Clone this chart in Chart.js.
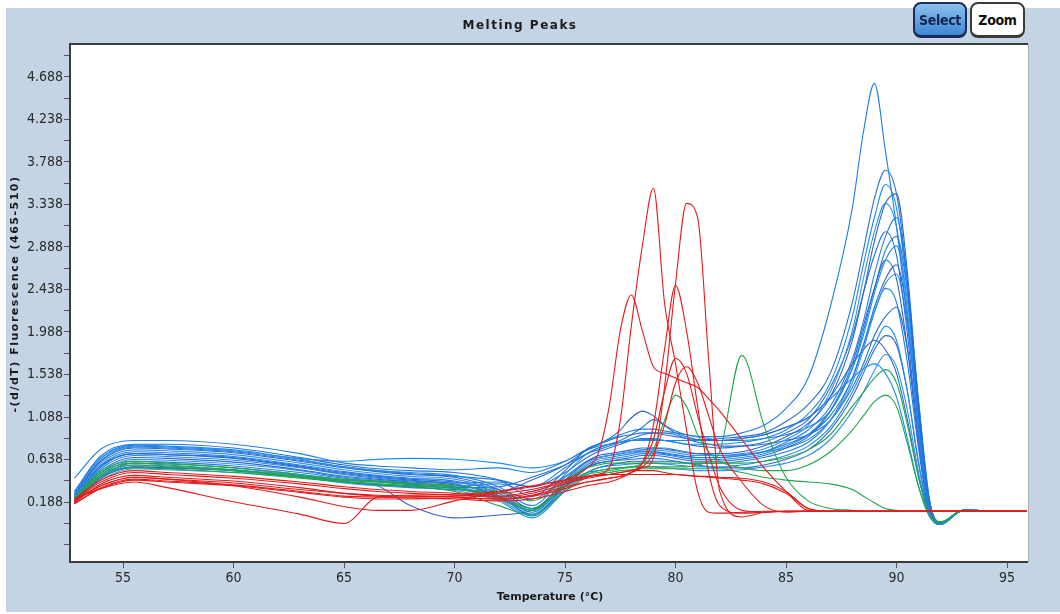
<!DOCTYPE html>
<html>
<head>
<meta charset="utf-8">
<title>Melting Peaks</title>
<script src="https://cdn.jsdelivr.net/npm/chart.js@4.4.1/dist/chart.umd.min.js"></script>
<style>
  html, body { margin: 0; padding: 0; background: #fff; }
  #wrap { position: relative; width: 1060px; height: 614px; }
  canvas { display: block; }
  .btn {
    position: absolute; top: 2px; height: 36px; box-sizing: border-box;
    font: bold 14px 'DejaVu Sans Condensed', 'Liberation Sans Narrow', sans-serif;
    letter-spacing: -0.3px;
    line-height: 32px; text-align: center; border-radius: 8px;
  }
  .btn.select {
    left: 913px; width: 54px; color: #14224e;
    border: 2px solid #1d2b58; border-bottom-width: 3px;
    background: linear-gradient(#8cc0ef, #3f86d4);
  }
  .btn.zoom {
    left: 970px; width: 55px; color: #111;
    border: 2px solid #3a3a3a; border-bottom-width: 3px;
    background: #fff;
  }
</style>
</head>
<body>
<div id="wrap">
  <canvas id="meltChart" width="1060" height="614"></canvas>
  <div class="btn select">Select</div>
  <div class="btn zoom">Zoom</div>
</div>
<script>
// Temperature grid shared by every curve (°C)
var temps = [52.8, 54, 55.5, 57, 60, 63, 65, 66.5, 68, 70,
             72, 73.5, 75, 76, 76.5, 77, 77.5, 78, 78.5, 79,
             79.5, 80, 80.5, 81, 81.5, 82, 83, 84, 85, 86,
             87, 88, 88.5, 89, 89.5, 90, 90.5, 91, 91.5, 92,
             93, 95.9];

// -(d/dT) fluorescence per sample, one row per curve
var blueCurves = [
  [0.44, 0.75, 0.84, 0.84, 0.80, 0.70, 0.60, 0.57, 0.55, 0.53,
   0.55, 0.50, 0.62, 0.75, 0.80, 0.85, 0.90, 0.94, 0.96, 0.96,
   0.94, 0.92, 0.90, 0.88, 0.88, 0.88, 0.92, 1.00, 1.18, 1.50,
   2.25, 3.30, 4.10, 4.62, 3.90, 3.10, 2.10, 1.00, 0.10, -0.03,
   0.10, 0.09],
  [0.30, 0.68, 0.80, 0.80, 0.76, 0.66, 0.58, 0.54, 0.52, 0.50,
   0.42, 0.25, 0.52, 0.75, 0.80, 0.84, 0.88, 0.90, 0.92, 0.92,
   0.90, 0.88, 0.86, 0.85, 0.85, 0.86, 0.88, 0.92, 1.04, 1.22,
   1.55, 2.30, 2.85, 3.40, 3.70, 3.45, 2.50, 1.10, 0.15, -0.04,
   0.10, 0.09],
  [0.28, 0.65, 0.78, 0.77, 0.73, 0.64, 0.56, 0.52, 0.50, 0.47,
   0.35, 0.15, 0.48, 0.70, 0.76, 0.80, 0.82, 0.84, 0.85, 0.85,
   0.84, 0.82, 0.80, 0.80, 0.80, 0.80, 0.82, 0.86, 0.95, 1.12,
   1.45, 2.15, 2.70, 3.20, 3.55, 3.30, 2.40, 1.05, 0.12, -0.05,
   0.10, 0.09],
  [0.26, 0.62, 0.76, 0.75, 0.71, 0.62, 0.55, 0.51, 0.48, 0.45,
   0.32, 0.12, 0.42, 0.62, 0.68, 0.70, 0.72, 0.74, 0.76, 0.76,
   0.75, 0.73, 0.71, 0.70, 0.70, 0.70, 0.72, 0.78, 0.88, 1.02,
   1.30, 1.90, 2.40, 2.95, 3.35, 3.45, 2.60, 1.20, 0.15, -0.04,
   0.10, 0.09],
  [0.25, 0.60, 0.74, 0.73, 0.69, 0.60, 0.53, 0.49, 0.46, 0.43,
   0.30, 0.10, 0.40, 0.60, 0.66, 0.68, 0.70, 0.72, 0.74, 0.74,
   0.73, 0.71, 0.69, 0.68, 0.68, 0.68, 0.70, 0.75, 0.85, 1.00,
   1.35, 2.00, 2.55, 3.05, 3.35, 3.10, 2.20, 0.95, 0.10, -0.05,
   0.10, 0.09],
  [0.24, 0.58, 0.72, 0.71, 0.67, 0.58, 0.51, 0.47, 0.44, 0.41,
   0.28, 0.08, 0.38, 0.58, 0.64, 0.66, 0.68, 0.70, 0.72, 0.72,
   0.71, 0.69, 0.67, 0.66, 0.66, 0.66, 0.68, 0.72, 0.82, 0.95,
   1.20, 1.70, 2.10, 2.60, 3.00, 3.20, 2.50, 1.25, 0.20, -0.03,
   0.10, 0.09],
  [0.23, 0.56, 0.70, 0.69, 0.65, 0.56, 0.49, 0.45, 0.42, 0.39,
   0.40, 0.35, 0.50, 0.66, 0.72, 0.76, 0.80, 0.84, 0.86, 0.86,
   0.84, 0.82, 0.80, 0.78, 0.77, 0.76, 0.78, 0.82, 0.92, 1.06,
   1.40, 1.95, 2.40, 2.80, 3.05, 2.80, 1.95, 0.85, 0.08, -0.05,
   0.10, 0.09],
  [0.22, 0.54, 0.68, 0.67, 0.63, 0.55, 0.48, 0.44, 0.41, 0.38,
   0.26, 0.06, 0.36, 0.56, 0.62, 0.64, 0.66, 0.68, 0.70, 0.70,
   0.69, 0.67, 0.65, 0.64, 0.64, 0.64, 0.66, 0.70, 0.78, 0.90,
   1.15, 1.60, 1.95, 2.40, 2.75, 2.90, 2.30, 1.15, 0.18, -0.04,
   0.10, 0.09],
  [0.22, 0.52, 0.66, 0.65, 0.61, 0.53, 0.46, 0.43, 0.40, 0.37,
   0.25, 0.05, 0.35, 0.55, 0.60, 0.62, 0.64, 0.66, 0.68, 0.68,
   0.67, 0.65, 0.63, 0.62, 0.62, 0.62, 0.64, 0.68, 0.76, 0.88,
   1.15, 1.65, 2.05, 2.45, 2.75, 2.55, 1.80, 0.80, 0.08, -0.05,
   0.10, 0.09],
  [0.21, 0.50, 0.64, 0.63, 0.59, 0.52, 0.45, 0.42, 0.39, 0.36,
   0.38, 0.30, 0.46, 0.62, 0.66, 0.68, 0.70, 0.72, 0.74, 0.76,
   0.76, 0.74, 0.72, 0.70, 0.69, 0.68, 0.69, 0.72, 0.76, 0.85,
   1.05, 1.45, 1.80, 2.20, 2.50, 2.60, 2.05, 1.00, 0.15, -0.04,
   0.10, 0.09],
  [0.20, 0.48, 0.62, 0.61, 0.57, 0.50, 0.44, 0.41, 0.38, 0.35,
   0.24, 0.10, 0.38, 0.56, 0.60, 0.62, 0.63, 0.64, 0.65, 0.65,
   0.64, 0.62, 0.60, 0.60, 0.60, 0.60, 0.62, 0.66, 0.72, 0.82,
   1.05, 1.50, 1.85, 2.20, 2.45, 2.30, 1.65, 0.75, 0.06, -0.05,
   0.10, 0.09],
  [0.20, 0.46, 0.60, 0.59, 0.55, 0.48, 0.42, 0.40, 0.37, 0.34,
   0.35, 0.45, 0.58, 0.70, 0.74, 0.78, 0.82, 0.86, 0.90, 0.92,
   0.92, 0.90, 0.86, 0.82, 0.80, 0.78, 0.78, 0.80, 0.84, 0.90,
   1.05, 1.40, 1.65, 1.95, 2.15, 2.25, 1.80, 0.90, 0.12, -0.04,
   0.10, 0.09],
  [0.19, 0.45, 0.58, 0.57, 0.53, 0.47, 0.41, 0.38, 0.36, 0.33,
   0.22, 0.04, 0.32, 0.50, 0.55, 0.57, 0.58, 0.59, 0.60, 0.60,
   0.59, 0.58, 0.57, 0.56, 0.56, 0.56, 0.58, 0.62, 0.68, 0.78,
   0.98, 1.35, 1.60, 1.85, 2.05, 1.90, 1.35, 0.60, 0.05, -0.04,
   0.10, 0.09],
  [0.19, 0.44, 0.56, 0.55, 0.52, 0.46, 0.40, 0.37, 0.35, 0.32,
   0.30, 0.42, 0.58, 0.74, 0.80, 0.86, 0.95, 1.08, 1.15, 1.10,
   1.00, 0.92, 0.88, 0.85, 0.84, 0.84, 0.86, 0.90, 0.98, 1.08,
   1.30, 1.65, 1.80, 1.90, 1.80, 1.55, 1.05, 0.45, 0.05, -0.03,
   0.10, 0.09],
  [0.18, 0.42, 0.54, 0.53, 0.50, 0.45, 0.39, 0.36, 0.34, 0.31,
   0.20, 0.02, 0.30, 0.48, 0.52, 0.54, 0.55, 0.56, 0.56, 0.56,
   0.55, 0.54, 0.53, 0.52, 0.52, 0.52, 0.53, 0.56, 0.60, 0.68,
   0.85, 1.15, 1.35, 1.58, 1.75, 1.62, 1.15, 0.50, 0.04, -0.04,
   0.10, 0.09],
  [0.27, 0.63, 0.77, 0.76, 0.72, 0.63, 0.56, 0.52, 0.49, 0.46,
   0.42, 0.35, 0.55, 0.70, 0.76, 0.80, 0.84, 0.90, 0.98, 1.06,
   1.00, 0.94, 0.90, 0.88, 0.86, 0.84, 0.84, 0.86, 0.90, 0.98,
   1.15, 1.60, 2.00, 2.45, 2.85, 3.00, 2.40, 1.25, 0.20, -0.03,
   0.10, 0.09],
  [0.24, 0.57, 0.70, 0.69, 0.66, 0.57, 0.50, 0.46, 0.43, 0.40,
   0.32, 0.22, 0.45, 0.62, 0.66, 0.68, 0.70, 0.72, 0.72, 0.72,
   0.70, 0.68, 0.67, 0.66, 0.66, 0.66, 0.68, 0.72, 0.80, 0.90,
   1.10, 1.50, 1.85, 2.25, 2.55, 2.70, 2.15, 1.10, 0.16, -0.04,
   0.10, 0.09],
  [0.30, 0.66, 0.79, 0.78, 0.74, 0.65, 0.62, 0.64, 0.65, 0.64,
   0.60, 0.55, 0.62, 0.74, 0.78, 0.80, 0.82, 0.84, 0.84, 0.84,
   0.84, 0.84, 0.84, 0.84, 0.84, 0.84, 0.86, 0.90, 0.98, 1.08,
   1.28, 1.50, 1.60, 1.65, 1.55, 1.30, 0.85, 0.35, 0.03, -0.03,
   0.10, 0.09],
  [0.20, 0.45, 0.56, 0.55, 0.52, 0.45, 0.40, 0.36, 0.15, 0.02,
   0.05, 0.10, 0.35, 0.50, 0.55, 0.58, 0.60, 0.62, 0.62, 0.62,
   0.62, 0.62, 0.60, 0.58, 0.56, 0.55, 0.55, 0.58, 0.64, 0.74,
   0.95, 1.30, 1.55, 1.80, 1.95, 1.85, 1.35, 0.60, 0.06, -0.04,
   0.10, 0.09]
];

var redCurves = [
  [0.22, 0.42, 0.52, 0.50, 0.46, 0.40, 0.35, 0.32, 0.30, 0.28,
   0.25, 0.30, 0.40, 0.45, 0.48, 0.55, 1.05, 2.05, 2.90, 3.51,
   2.30, 1.65, 0.95, 0.30, 0.08, 0.07, 0.08, 0.09, 0.09, 0.09,
   0.09, 0.09, 0.09, 0.09, 0.09, 0.09, 0.09, 0.09, 0.09, 0.09,
   0.09, 0.09],
  [0.20, 0.40, 0.50, 0.48, 0.44, 0.38, 0.33, 0.30, 0.28, 0.26,
   0.24, 0.28, 0.38, 0.44, 0.46, 0.48, 0.50, 0.52, 0.55, 0.65,
   1.40, 2.50, 3.35, 3.20, 1.70, 0.30, 0.03, 0.08, 0.09, 0.09,
   0.09, 0.09, 0.09, 0.09, 0.09, 0.09, 0.09, 0.09, 0.09, 0.09,
   0.09, 0.09],
  [0.18, 0.38, 0.47, 0.45, 0.41, 0.34, 0.28, 0.25, 0.24, 0.25,
   0.28, 0.32, 0.42, 0.55, 0.70, 1.20, 2.00, 2.38, 2.00, 1.62,
   1.55, 1.50, 1.45, 1.40, 1.28, 1.15, 0.85, 0.55, 0.30, 0.10,
   0.09, 0.09, 0.09, 0.09, 0.09, 0.09, 0.09, 0.09, 0.09, 0.09,
   0.09, 0.09],
  [0.20, 0.36, 0.45, 0.43, 0.39, 0.32, 0.28, 0.26, 0.25, 0.24,
   0.22, 0.26, 0.35, 0.40, 0.42, 0.44, 0.46, 0.50, 0.60, 1.00,
   1.80, 2.48, 2.00, 1.20, 0.50, 0.15, 0.07, 0.08, 0.09, 0.09,
   0.09, 0.09, 0.09, 0.09, 0.09, 0.09, 0.09, 0.09, 0.09, 0.09,
   0.09, 0.09],
  [0.17, 0.34, 0.43, 0.41, 0.37, 0.30, 0.25, 0.24, 0.23, 0.22,
   0.20, 0.22, 0.30, 0.36, 0.38, 0.40, 0.44, 0.50, 0.60, 0.85,
   1.35, 1.71, 1.55, 1.10, 0.70, 0.35, 0.10, 0.08, 0.09, 0.09,
   0.09, 0.09, 0.09, 0.09, 0.09, 0.09, 0.09, 0.09, 0.09, 0.09,
   0.09, 0.09],
  [0.17, 0.33, 0.42, 0.40, 0.36, 0.29, 0.24, 0.22, 0.22, 0.23,
   0.22, 0.25, 0.33, 0.40, 0.42, 0.44, 0.46, 0.50, 0.56, 0.70,
   1.00, 1.45, 1.62, 1.45, 1.10, 0.75, 0.40, 0.15, 0.08, 0.09,
   0.09, 0.09, 0.09, 0.09, 0.09, 0.09, 0.09, 0.09, 0.09, 0.09,
   0.09, 0.09],
  [0.22, 0.33, 0.40, 0.34, 0.19, 0.06, -0.04, 0.24, 0.26, 0.27,
   0.30, 0.35, 0.42, 0.46, 0.48, 0.48, 0.48, 0.48, 0.48, 0.48,
   0.48, 0.48, 0.47, 0.46, 0.46, 0.45, 0.44, 0.40, 0.30, 0.12,
   0.09, 0.09, 0.09, 0.09, 0.09, 0.09, 0.09, 0.09, 0.09, 0.09,
   0.09, 0.09],
  [0.20, 0.36, 0.45, 0.43, 0.36, 0.24, 0.14, 0.10, 0.10, 0.20,
   0.30, 0.36, 0.42, 0.46, 0.47, 0.48, 0.50, 0.52, 0.52, 0.52,
   0.50, 0.48, 0.47, 0.46, 0.45, 0.44, 0.42, 0.38, 0.28, 0.12,
   0.09, 0.09, 0.09, 0.09, 0.09, 0.09, 0.09, 0.09, 0.09, 0.09,
   0.09, 0.09]
];

var greenCurves = [
  [0.22, 0.50, 0.60, 0.58, 0.53, 0.46, 0.42, 0.40, 0.38, 0.34,
   0.22, 0.10, 0.38, 0.50, 0.52, 0.54, 0.55, 0.56, 0.56, 0.56,
   0.56, 0.56, 0.56, 0.58, 0.62, 0.72, 1.74, 1.00, 0.45, 0.20,
   0.12, 0.10, 0.09, 0.09, 0.09, 0.09, 0.09, 0.09, 0.09, 0.09,
   0.09, 0.09],
  [0.21, 0.48, 0.58, 0.56, 0.52, 0.45, 0.40, 0.38, 0.36, 0.33,
   0.25, 0.12, 0.35, 0.48, 0.50, 0.52, 0.54, 0.56, 0.60, 0.75,
   1.05, 1.32, 1.20, 0.90, 0.72, 0.62, 0.55, 0.52, 0.52, 0.58,
   0.72, 0.95, 1.10, 1.25, 1.32, 1.20, 0.80, 0.35, 0.05, -0.02,
   0.10, 0.09],
  [0.23, 0.52, 0.62, 0.60, 0.55, 0.48, 0.43, 0.41, 0.39, 0.36,
   0.30, 0.20, 0.42, 0.55, 0.58, 0.60, 0.60, 0.60, 0.60, 0.60,
   0.60, 0.60, 0.60, 0.60, 0.60, 0.60, 0.60, 0.62, 0.66, 0.74,
   0.90, 1.20, 1.35, 1.50, 1.59, 1.45, 1.00, 0.45, 0.05, -0.03,
   0.10, 0.09],
  [0.20, 0.45, 0.55, 0.54, 0.50, 0.44, 0.40, 0.37, 0.35, 0.30,
   0.15, 0.05, 0.30, 0.45, 0.48, 0.50, 0.52, 0.53, 0.54, 0.54,
   0.54, 0.54, 0.54, 0.54, 0.54, 0.54, 0.50, 0.45, 0.42, 0.40,
   0.38, 0.32, 0.25, 0.18, 0.12, 0.10, 0.09, 0.09, 0.09, 0.09,
   0.09, 0.09]
];

// Axis ticks as printed by the instrument software
var yTickLabels = ['0.188', '0.638', '1.088', '1.538', '1.988', '2.438',
                   '2.888', '3.338', '3.788', '4.238', '4.688'];
var xTickLabels = ['55', '60', '65', '70', '75', '80', '85', '90', '95'];

var Y_MIN = -0.447, Y_MAX = 5.037;
var BLUES = ['#1f7fe6', '#2a6fd6', '#1b8cf0', '#2f66c9', '#3392ee'];
var RED = '#e51b1b';
var GREEN = '#22a64a';
var NARROW = "'Liberation Sans Narrow', 'DejaVu Sans Condensed', sans-serif";
var BOLD = "'DejaVu Sans', sans-serif";

function toPoints(values) {
  return temps.map(function (t, i) { return { x: t, y: values[i] }; });
}

function lineSet(values, color) {
  return {
    data: toPoints(values),
    borderColor: color,
    borderWidth: 1.1,
    pointRadius: 0,
    fill: false,
    cubicInterpolationMode: 'monotone'
  };
}

// first dataset is painted last, so reds sit on top, blues at the bottom
var datasets = []
  .concat(redCurves.map(function (c) { return lineSet(c, RED); }))
  .concat(greenCurves.map(function (c) { return lineSet(c, GREEN); }))
  .concat(blueCurves.map(function (c, i) { return lineSet(c, BLUES[i % BLUES.length]); }));

// major y ticks every 0.45, a blank minor tick halfway between
var yMajor = yTickLabels.map(Number);
var yStep = yMajor[1] - yMajor[0];
var yTicks = [];
for (var k = -2; k <= yMajor.length * 2; k++) {
  var v = +(yMajor[0] + k * yStep / 2).toFixed(4);
  if (v > Y_MIN && v < Y_MAX) yTicks.push({ value: v });
}

// light blue panel, white plot area, dark frame and the three titles
var panel = {
  id: 'panel',
  beforeDraw: function (chart) {
    var c = chart.ctx, a = chart.chartArea;
    c.save();
    c.fillStyle = '#ffffff';
    c.fillRect(0, 0, chart.width, chart.height);
    c.fillStyle = '#c4d4e5';
    c.fillRect(6, 8, chart.width - 6, chart.height - 10);
    c.fillStyle = '#ffffff';
    c.fillRect(a.left, a.top, a.right - a.left, a.bottom - a.top);
    c.restore();
  },
  afterDraw: function (chart) {
    var c = chart.ctx, a = chart.chartArea;
    c.save();
    c.strokeStyle = '#a8b0b8';
    c.lineWidth = 1;
    c.beginPath();
    c.moveTo(a.right + 0.5, a.top);
    c.lineTo(a.right + 0.5, a.bottom);
    c.stroke();
    c.strokeStyle = '#3c3c3c';
    c.lineWidth = 2;
    c.beginPath();
    c.moveTo(a.right, a.top);
    c.lineTo(a.left, a.top);
    c.lineTo(a.left, a.bottom);
    c.lineTo(a.right, a.bottom);
    c.stroke();

    c.fillStyle = '#1a1a1a';
    c.textAlign = 'center';
    c.textBaseline = 'middle';
    c.font = 'bold 12px ' + BOLD;
    c.letterSpacing = '1.5px';
    c.fillText('Melting Peaks', 520, 26);

    c.letterSpacing = '0px';
    c.font = 'bold 11px ' + BOLD;
    c.fillText('Temperature (°C)', 550, 597);

    c.translate(15, 294);
    c.rotate(-Math.PI / 2);
    c.letterSpacing = '1.5px';
    c.fillText('-(d/dT) Fluorescence (465-510)', 0, 0);
    c.restore();
  }
};

new Chart(document.getElementById('meltChart'), {
  type: 'line',
  data: { datasets: datasets },
  plugins: [panel],
  options: {
    responsive: false,
    animation: false,
    events: [],
    layout: { padding: { left: 6, right: 32, top: 44, bottom: 0 } },
    plugins: {
      legend: { display: false },
      tooltip: { enabled: false },
      title: { display: false }
    },
    scales: {
      x: {
        type: 'linear',
        min: 52.6,
        max: 95.95,
        afterFit: function (s) { s.height = 52; },
        afterBuildTicks: function (s) {
          s.ticks = xTickLabels.map(function (l) { return { value: Number(l) }; });
        },
        border: { display: false },
        grid: { drawOnChartArea: false, tickLength: 6, color: '#555' },
        ticks: {
          color: '#2a2a2a',
          padding: 2,
          font: { family: NARROW, size: 14 },
          callback: function (v) { return String(v); }
        }
      },
      y: {
        type: 'linear',
        min: Y_MIN,
        max: Y_MAX,
        afterFit: function (s) { s.width = 64; },
        afterBuildTicks: function (s) { s.ticks = yTicks.slice(); },
        border: { display: false },
        grid: { drawOnChartArea: false, tickLength: 6, color: '#555' },
        ticks: {
          color: '#2a2a2a',
          padding: 1,
          font: { family: NARROW, size: 14 },
          callback: function (v) {
            var i = yMajor.findIndex(function (m) { return Math.abs(m - v) < 1e-3; });
            return i >= 0 ? yTickLabels[i] : '';
          }
        }
      }
    }
  }
});
</script>
</body>
</html>
